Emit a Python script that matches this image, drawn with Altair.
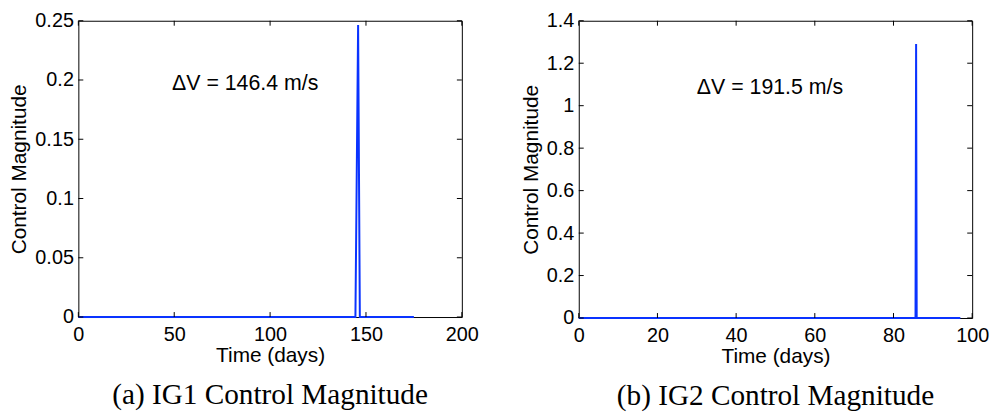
import altair as alt
import pandas as pd

# ---- data ----
t1 = [0, 144.5, 145.9, 146.8, 175]
v1 = [0, 0, 0.2465, 0, 0]
t2 = [0, 85.6, 85.75, 85.9, 97]
v2 = [0, 0, 1.29, 0, 0]

xticks1 = [0, 50, 100, 150, 200]
yticks1 = [0, 0.05, 0.1, 0.15, 0.2, 0.25]
xticks2 = [0, 20, 40, 60, 80, 100]
yticks2 = [0, 0.2, 0.4, 0.6, 0.8, 1.0, 1.2, 1.4]

notes = ["ΔV = 146.4 m/s", "ΔV = 191.5 m/s"]
note_x = [87, 48.6]
note_y = [0.1967, 1.082]
captions = ["(a) IG1 Control Magnitude", "(b) IG2 Control Magnitude"]

BLUE = "#0a33ff"
SANS = "Liberation Sans"
SERIF = "Liberation Serif"
TICK = 5


def panel(t, v, xt, yt, note, nx, ny, caption, W, H):
    xs = alt.Scale(domain=[xt[0], xt[-1]], nice=False, zero=False)
    ys = alt.Scale(domain=[yt[0], yt[-1]], nice=False, zero=False)
    xaxis = alt.Axis(values=xt, title="Time (days)", format="~r", ticks=False,
                     domain=False, grid=False, labelFont=SANS, labelFontSize=20,
                     labelColor="black", titleFont=SANS, titleFontSize=21,
                     titleFontWeight="normal", titleColor="black",
                     labelPadding=8, titlePadding=0, labelFlush=False,
                     labelOverlap=False)
    yaxis = alt.Axis(values=yt, title="Control Magnitude", format="~r", ticks=False,
                     domain=False, grid=False, labelFont=SANS, labelFontSize=20,
                     labelColor="black", titleFont=SANS, titleFontSize=21,
                     titleFontWeight="normal", titleColor="black",
                     labelPadding=5, titlePadding=5, labelFlush=False,
                     labelOverlap=False)

    X = lambda: alt.X("t:Q", scale=xs, axis=xaxis)
    Y = lambda: alt.Y("v:Q", scale=ys, axis=yaxis)

    df = pd.DataFrame({"t": t, "v": v})
    line = alt.Chart(df).mark_line(color=BLUE, strokeWidth=2, clip=False).encode(
        x=X(), y=Y())

    xdf = pd.DataFrame({"t": xt})
    ydf = pd.DataFrame({"v": yt})
    tb = alt.Chart(xdf).mark_rule(color="black", strokeWidth=1).encode(
        x=X(), y=alt.value(H), y2=alt.value(H - TICK))
    tt = alt.Chart(xdf).mark_rule(color="black", strokeWidth=1).encode(
        x=X(), y=alt.value(0), y2=alt.value(TICK))
    tl = alt.Chart(ydf).mark_rule(color="black", strokeWidth=1).encode(
        y=Y(), x=alt.value(0), x2=alt.value(TICK))
    tr = alt.Chart(ydf).mark_rule(color="black", strokeWidth=1).encode(
        y=Y(), x=alt.value(W), x2=alt.value(W - TICK))

    ndf = pd.DataFrame({"t": [nx], "v": [ny], "label": [note]})
    txt = alt.Chart(ndf).mark_text(font=SANS, fontSize=21.5, color="black",
                                   align="center", baseline="middle").encode(
        x=X(), y=Y(), text="label:N")

    return alt.layer(line, tb, tt, tl, tr, txt).properties(
        width=W, height=H,
        title=alt.Title(caption, orient="bottom", font=SERIF, fontSize=29.5,
                        fontWeight="normal", color="black", offset=16),
    )


left = panel(t1, v1, xticks1, yticks1, notes[0], note_x[0], note_y[0], captions[0], 387, 299)
right = panel(t2, v2, xticks2, yticks2, notes[1], note_x[1], note_y[1], captions[1], 397, 300)

chart = alt.hconcat(left, right, spacing=40).properties(
    padding={"left": 0, "top": 0, "right": 0, "bottom": 0},
    background="white",
).configure_view(stroke="black", strokeWidth=1)

chart.save("out.html", embed_options={"renderer": "svg", "actions": False})
